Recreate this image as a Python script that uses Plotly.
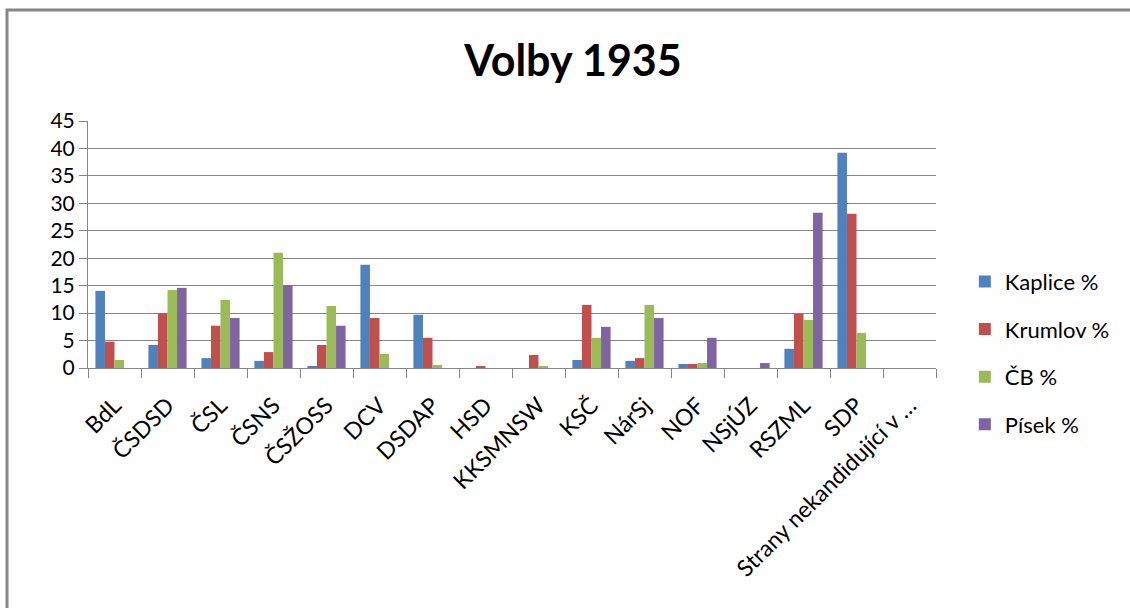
import plotly.graph_objects as go

strany = ["BdL", "ČSDSD", "ČSL", "ČSNS", "ČSŽOSS", "DCV", "DSDAP", "HSD", "KKSMNSW",
          "KSČ", "NárSj", "NOF", "NSjÚZ", "RSZML", "SDP", "Strany nekandidující v …"]

kaplice = [14.05, 4.2, 1.8, 1.3, 0.2, 18.8, 9.7, 0, 0, 1.46, 1.3, 0.73, 0, 3.5, 39.2, 0]
krumlov = [4.8, 10.0, 7.7, 2.9, 4.2, 9.1, 5.5, 0.2, 2.37, 11.5, 1.8, 0.73, 0, 9.85, 28.1, 0]
cb = [1.46, 14.2, 12.4, 21.0, 11.3, 2.55, 0.55, 0, 0.2, 5.5, 11.5, 0.9, 0, 8.76, 6.4, 0]
pisek = [0, 14.6, 9.1, 15.1, 7.7, 0, 0, 0, 0, 7.5, 9.1, 5.5, 0.9, 28.3, 0, 0]

serie = [("Kaplice %", kaplice, "#4F81BD"),
         ("Krumlov %", krumlov, "#C0504D"),
         ("ČB %", cb, "#9BBB59"),
         ("Písek %", pisek, "#8064A2")]

fig = go.Figure()
for nazev, hodnoty, barva in serie:
    fig.add_trace(go.Bar(x=strany, y=hodnoty, name=nazev, legendgroup=nazev,
                         marker_color=barva, marker_line_width=0))

seda = "#868686"
fig.update_layout(
    width=1130, height=608,
    margin=dict(l=88, r=194, t=121, b=240),
    paper_bgcolor="white", plot_bgcolor="white",
    font=dict(family="Lato", size=20, color="black"),
    title=dict(text="<b>Volby 1935</b>", font=dict(size=43, family="Lato"),
               x=573 / 1130, xanchor="center", xref="container",
               y=1 - 61 / 608, yanchor="middle", yref="container"),
    barmode="group", bargap=0.28, bargroupgap=0,
    showlegend=True,
    legend=dict(x=1.034, y=0.06, xanchor="left", yanchor="middle", yref="paper",
                font=dict(size=22), tracegroupgap=16, itemwidth=30,
                bgcolor="rgba(0,0,0,0)"),
)
fig.update_yaxes(range=[0, 45], dtick=5, showgrid=True, gridcolor=seda, gridwidth=1,
                 showline=True, linecolor=seda, linewidth=1, ticks="outside",
                 ticklen=8, tickcolor=seda, tickfont=dict(size=21), zeroline=False)
fig.update_xaxes(showline=True, linecolor=seda, linewidth=1, ticks="outside",
                 ticklen=9, tickcolor=seda, tickson="boundaries", tickangle=-45,
                 ticklabelstandoff=14, tickfont=dict(size=23), showgrid=False)

# ramecek grafu (jen levy a horni okraj je videt)
fig.add_shape(type="rect", xref="paper", yref="paper",
              x0=(7 - 88) / 848, x1=(1140 - 88) / 848,
              y0=(368 - 620) / 247, y1=(368 - 10) / 247,
              line=dict(color=seda, width=3))

fig.write_html("out.html", config={"displayModeBar": False},
               post_script="document.body.style.margin='0px';")
